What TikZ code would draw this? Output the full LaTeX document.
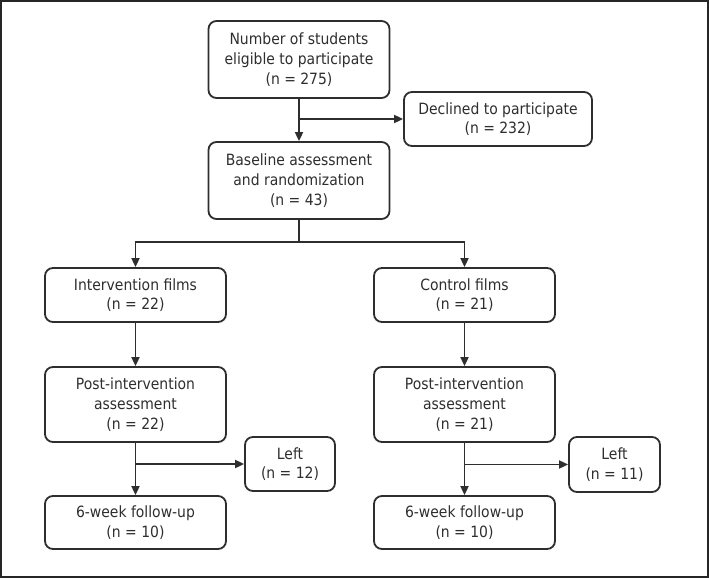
\documentclass[tikz,border=0pt]{standalone}
\usepackage{fontspec}
\setmainfont{DejaVu Sans Condensed}
\usetikzlibrary{arrows.meta}
\definecolor{ink}{HTML}{2E2E2E}
\begin{document}
\begin{tikzpicture}[x=1pt,y=-1pt,
 box/.style={draw=ink, line width=1.8pt, rounded corners=8pt, align=center, inner sep=0pt, text=ink, font=\fontsize{15.5}{19.7}\selectfont},
 wide/.style={minimum width=181pt},
 arr/.style={draw=ink, line width=1.8pt, -{Triangle[length=9pt,width=8pt]}},
 ln/.style={draw=ink, line width=1.8pt}]
\useasboundingbox (0,0) rectangle (709,578);
\draw[line width=2pt, draw=black!85] (1,1) rectangle (708,577);
\node[box, wide, minimum height=77pt] (n1) at (299,59.5) {Number of students\\eligible to participate\\(n = 275)};
\node[box, minimum width=188pt, minimum height=54pt] (dec) at (498,119) {Declined to participate\\(n = 232)};
\node[box, wide, minimum height=77pt] (base) at (299,180.5) {Baseline assessment\\and randomization\\(n = 43)};
\node[box, wide, minimum height=54pt] (int) at (135.5,295) {Intervention films\\(n = 22)};
\node[box, wide, minimum height=54pt] (ctl) at (464.5,295) {Control films\\(n = 21)};
\node[box, wide, minimum height=75pt] (pi1) at (135.5,404.5) {Post-intervention\\assessment\\(n = 22)};
\node[box, wide, minimum height=75pt] (pi2) at (464.5,404.5) {Post-intervention\\assessment\\(n = 21)};
\node[box, minimum width=90pt, minimum height=54pt] (l1) at (290,464) {Left\\(n = 12)};
\node[box, minimum width=91pt, minimum height=55pt] (l2) at (614.5,464.5) {Left\\(n = 11)};
\node[box, wide, minimum height=53pt] (f1) at (135.5,522.5) {6-week follow-up\\(n = 10)};
\node[box, wide, minimum height=53pt] (f2) at (464.5,522.5) {6-week follow-up\\(n = 10)};
\coordinate (split) at (299,242);
\draw[arr] (n1.south) -- (base.north);
\draw[arr] (n1.south |- dec.west) -- (dec.west);
\draw[ln] (base.south) -- (split);
\draw[arr] (split) -| (int.north);
\draw[arr] (split) -| (ctl.north);
\draw[arr] (int.south) -- (pi1.north);
\draw[arr] (ctl.south) -- (pi2.north);
\draw[arr] (pi1.south) -- (f1.north);
\draw[arr] (pi2.south) -- (f2.north);
\draw[arr] (pi1.south |- l1.west) -- (l1.west);
\draw[arr] (pi2.south |- l2.west) -- (l2.west);
\end{tikzpicture}
\end{document}
